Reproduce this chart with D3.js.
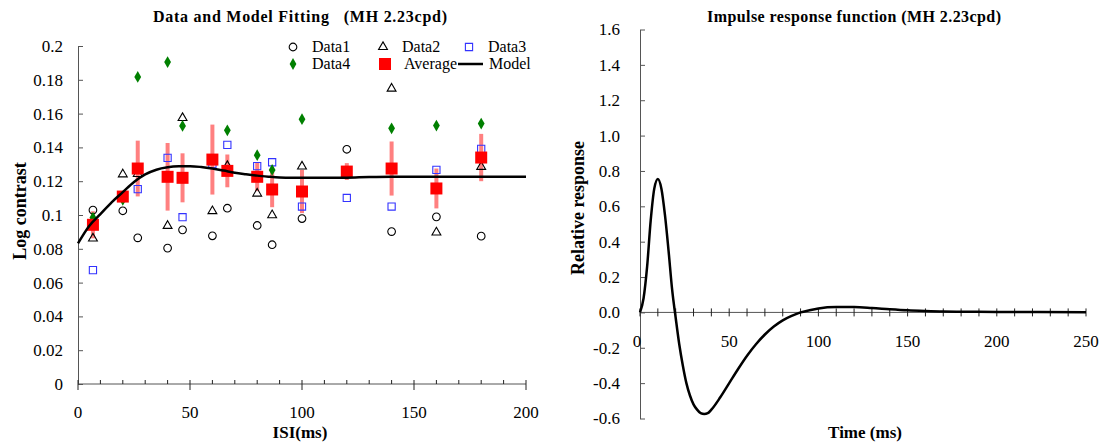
<!DOCTYPE html>
<html>
<head>
<meta charset="utf-8">
<title>Data and Model Fitting / Impulse response</title>
<script src="https://d3js.org/d3.v7.min.js"></script>
<style>
  body { margin: 0; background: #fff; }
</style>
</head>
<body>
<script>
// ISI values (ms) shared by all data series
const isi = [6.67, 20, 26.67, 40, 46.67, 60, 66.67, 80, 86.67, 100, 120, 140, 160, 180];
const data1 = [0.1029, 0.1025, 0.0865, 0.0804, 0.0912, 0.0877, 0.104, 0.0938, 0.0824, 0.0979, 0.1389, 0.0902, 0.0989, 0.0875];
const data2 = [0.0861, 0.1241, 0.1243, 0.0936, 0.1574, 0.1023, 0.129, 0.1127, 0.0999, 0.1287, null, 0.1748, 0.0897, 0.1285];
const data3 = [0.0674, null, 0.1153, 0.1338, 0.0987, 0.130, 0.1415, 0.1289, 0.1312, 0.105, 0.1101, 0.105, 0.1267, 0.1391];
const data4 = [0.0985, 0.109, 0.1817, 0.1905, 0.1527, null, 0.1501, 0.1354, 0.1267, 0.1567, null, 0.1513, 0.1529, 0.1541];
const average = [0.0942, 0.1109, 0.1275, 0.1226, 0.122, 0.1328, 0.1261, 0.1226, 0.1151, 0.1139, 0.1257, 0.1275, 0.1157, 0.134];
const avgErr = [0.008, 0.003, 0.0165, 0.02, 0.0145, 0.0207, 0.0097, 0.0085, 0.0105, 0.0128, 0.005, 0.016, 0.0118, 0.014];

// model curve
const modelX = [0, 5, 10, 15, 20, 25, 30, 35, 40, 45, 50, 55, 60, 65, 70, 75, 80, 85, 90, 95, 100, 110, 120, 130, 140, 160, 180, 200];
const modelY = [0.0832, 0.0935, 0.1005, 0.1075, 0.1135, 0.1195, 0.124, 0.1268, 0.1282, 0.1288, 0.1289, 0.1284, 0.1275, 0.1263, 0.125, 0.1241, 0.1233, 0.1227, 0.1222, 0.122, 0.122, 0.122, 0.1221, 0.1225, 0.1227, 0.1227, 0.1227, 0.1227];

// impulse response function
const irfT = [0, 2, 4, 6, 8, 10, 12, 14, 16, 18, 20, 22, 24, 26, 28, 30, 32, 34, 36, 38, 40, 45, 50, 55, 60, 65, 70, 75, 80, 85, 90, 95, 100, 110, 120, 130, 140, 150, 160, 170, 180, 200, 220, 250];
const irfV = [0, 0.08, 0.26, 0.52, 0.70, 0.755, 0.70, 0.55, 0.35, 0.13, -0.03, -0.18, -0.30, -0.40, -0.47, -0.52, -0.55, -0.57, -0.575, -0.57, -0.55, -0.48, -0.40, -0.32, -0.245, -0.18, -0.125, -0.08, -0.045, -0.02, 0.0, 0.012, 0.022, 0.03, 0.03, 0.025, 0.018, 0.012, 0.008, 0.005, 0.004, 0.003, 0.002, 0.001];

const leftYTicks = [0, 0.02, 0.04, 0.06, 0.08, 0.1, 0.12, 0.14, 0.16, 0.18, 0.2];
const leftXTicks = [0, 50, 100, 150, 200];
const rightYTicks = [-0.6, -0.4, -0.2, 0, 0.2, 0.4, 0.6, 0.8, 1.0, 1.2, 1.4, 1.6];
const rightXTicks = [0, 50, 100, 150, 200, 250];

const width = 1102, height = 443;
const axisColor = "#555";
const serif = '"Liberation Serif", "Times New Roman", serif';

const svg = d3.select("body").append("svg")
    .attr("width", width)
    .attr("height", height)
    .attr("font-family", serif);

// ---------- left chart ----------
const x1 = d3.scaleLinear().domain([0, 200]).range([78, 526]);
const y1 = d3.scaleLinear().domain([0, 0.2]).range([384, 46]);

const left = svg.append("g");

left.append("text")
    .attr("x", 300).attr("y", 22)
    .attr("text-anchor", "middle")
    .attr("font-size", "16px").attr("font-weight", "bold")
    .attr("textLength", 294).attr("lengthAdjust", "spacing")
    .attr("xml:space", "preserve")
    .text("Data and Model Fitting   (MH 2.23cpd)");

const yAx1 = left.append("g")
    .attr("transform", `translate(${x1(0)},0)`)
    .call(d3.axisLeft(y1).tickValues(leftYTicks).tickSizeInner(-5).tickSizeOuter(0).tickPadding(15)
        .tickFormat(d => d === 0 ? "0" : String(+d.toFixed(2))))
    .attr("font-family", null).attr("font-size", null);
yAx1.selectAll("path, line").attr("stroke", axisColor);
yAx1.selectAll("text").attr("font-size", "17px").attr("fill", "#000");

// x axis with minor ticks every 10
const xAx1 = left.append("g");
xAx1.append("line")
    .attr("x1", x1(0)).attr("x2", x1(200))
    .attr("y1", y1(0)).attr("y2", y1(0))
    .attr("stroke", axisColor);
xAx1.selectAll("line.tk")
    .data(d3.range(0, 201, 10))
    .enter().append("line")
    .attr("class", "tk")
    .attr("x1", d => x1(d)).attr("x2", d => x1(d))
    .attr("y1", y1(0) - 4)
    .attr("y2", d => d % 50 === 0 ? y1(0) + 6 : y1(0))
    .attr("stroke", "#222");
xAx1.selectAll("text")
    .data(leftXTicks)
    .enter().append("text")
    .attr("x", d => x1(d)).attr("y", y1(0) + 34)
    .attr("text-anchor", "middle")
    .attr("font-size", "17px")
    .text(d => d);

left.append("text")
    .attr("x", 300).attr("y", 438)
    .attr("text-anchor", "middle")
    .attr("font-size", "17px").attr("font-weight", "bold")
    .text("ISI(ms)");

left.append("text")
    .attr("transform", "translate(26,211) rotate(-90)")
    .attr("text-anchor", "middle")
    .attr("font-size", "18px").attr("font-weight", "bold")
    .text("Log contrast");

// error bars
left.selectAll("line.err")
    .data(isi)
    .enter().append("line")
    .attr("class", "err")
    .attr("x1", d => x1(d)).attr("x2", d => x1(d))
    .attr("y1", (d, i) => y1(average[i] - avgErr[i]))
    .attr("y2", (d, i) => y1(average[i] + avgErr[i]))
    .attr("stroke", "#ff8080").attr("stroke-width", 4);

function pts(arr) {
    return isi.map((d, i) => ({ x: d, y: arr[i] })).filter(p => p.y != null);
}

const sym = {
    circle: d3.symbol().type(d3.symbolCircle).size(46),
    triangle: d3.symbol().type(d3.symbolTriangle).size(34),
    square: d3.symbol().type(d3.symbolSquare).size(52),
    diamond: d3.symbol().type(d3.symbolDiamond).size(40),
    avg: d3.symbol().type(d3.symbolSquare).size(144)
};

function drawMarkers(g, data, path, fill, stroke) {
    g.selectAll(null)
        .data(data)
        .enter().append("path")
        .attr("d", path)
        .attr("transform", d => `translate(${x1(d.x)},${y1(d.y)})`)
        .attr("fill", fill)
        .attr("stroke", stroke)
        .attr("stroke-width", stroke === "none" ? 0 : 1.1);
}

const marks = left.append("g");
drawMarkers(marks, pts(data1), sym.circle(), "none", "#000");
drawMarkers(marks, pts(data2), sym.triangle(), "none", "#000");
drawMarkers(marks, pts(data3), sym.square(), "none", "#3333ff");
drawMarkers(marks, pts(data4), sym.diamond(), "#008000", "none");

const model = d3.line().x((d, i) => x1(modelX[i])).y(d => y1(d)).curve(d3.curveMonotoneX);
left.append("path")
    .attr("d", model(modelY))
    .attr("fill", "none").attr("stroke", "#000").attr("stroke-width", 2.5);

drawMarkers(marks.append("g"), pts(average), sym.avg(), "#ff0000", "none");

// legend
const legend = left.append("g").attr("font-size", "16px");
const legendItems = [
    { name: "Data1", path: sym.circle(), fill: "none", stroke: "#000", x: 293, y: 47 },
    { name: "Data2", path: sym.triangle(), fill: "none", stroke: "#000", x: 383, y: 47 },
    { name: "Data3", path: sym.square(), fill: "none", stroke: "#3333ff", x: 469, y: 47 },
    { name: "Data4", path: sym.diamond(), fill: "#008000", stroke: "none", x: 293, y: 64 },
    { name: "Average", path: sym.avg(), fill: "#ff0000", stroke: "none", x: 385, y: 64 },
    { name: "Model", path: null, x: 470, y: 64 }
];
legendItems.forEach(it => {
    if (it.path) {
        legend.append("path")
            .attr("d", it.path)
            .attr("transform", `translate(${it.x},${it.y})`)
            .attr("fill", it.fill).attr("stroke", it.stroke)
            .attr("stroke-width", it.stroke === "none" ? 0 : 1.1);
    } else {
        legend.append("line")
            .attr("x1", it.x - 12).attr("x2", it.x + 13)
            .attr("y1", it.y).attr("y2", it.y)
            .attr("stroke", "#000").attr("stroke-width", 2.5);
    }
    legend.append("text")
        .attr("x", it.x + 19).attr("y", it.y + 5)
        .text(it.name);
});

// ---------- right chart ----------
const x2 = d3.scaleLinear().domain([0, 250]).range([640, 1086]);
const y2 = d3.scaleLinear().domain([-0.6, 1.6]).range([418.5, 29.5]);

const right = svg.append("g");

right.append("text")
    .attr("x", 854).attr("y", 22)
    .attr("text-anchor", "middle")
    .attr("font-size", "16px").attr("font-weight", "bold")
    .attr("textLength", 294).attr("lengthAdjust", "spacing")
    .text("Impulse response function (MH 2.23cpd)");

const yAx2 = right.append("g")
    .attr("transform", `translate(${x2(0)},0)`)
    .call(d3.axisLeft(y2).tickValues(rightYTicks).tickSizeInner(-5).tickSizeOuter(0).tickPadding(20)
        .tickFormat(d => d.toFixed(1)))
    .attr("font-family", null).attr("font-size", null);
yAx2.selectAll("path, line").attr("stroke", axisColor);
yAx2.selectAll("text").attr("font-size", "17px").attr("fill", "#000");

const xAx2 = right.append("g");
xAx2.append("line")
    .attr("x1", x2(0)).attr("x2", x2(250))
    .attr("y1", y2(0)).attr("y2", y2(0))
    .attr("stroke", axisColor);
xAx2.selectAll("line.tk")
    .data(d3.range(0, 251, 10))
    .enter().append("line")
    .attr("class", "tk")
    .attr("x1", d => x2(d)).attr("x2", d => x2(d))
    .attr("y1", y2(0) - 4).attr("y2", y2(0) + 4)
    .attr("stroke", "#222");
xAx2.selectAll("text")
    .data(rightXTicks)
    .enter().append("text")
    .attr("x", d => d === 0 ? x2(d) - 3 : x2(d)).attr("y", y2(0) + 35)
    .attr("text-anchor", "middle")
    .attr("font-size", "17px")
    .text(d => d);

right.append("text")
    .attr("x", 865).attr("y", 438)
    .attr("text-anchor", "middle")
    .attr("font-size", "17px").attr("font-weight", "bold")
    .text("Time (ms)");

right.append("text")
    .attr("transform", "translate(584,208) rotate(-90)")
    .attr("text-anchor", "middle")
    .attr("font-size", "18px").attr("font-weight", "bold")
    .text("Relative response");

const irf = d3.line().x((d, i) => x2(irfT[i])).y(d => y2(d)).curve(d3.curveMonotoneX);
right.append("path")
    .attr("d", irf(irfV))
    .attr("fill", "none").attr("stroke", "#000").attr("stroke-width", 2.5);
</script>
</body>
</html>
